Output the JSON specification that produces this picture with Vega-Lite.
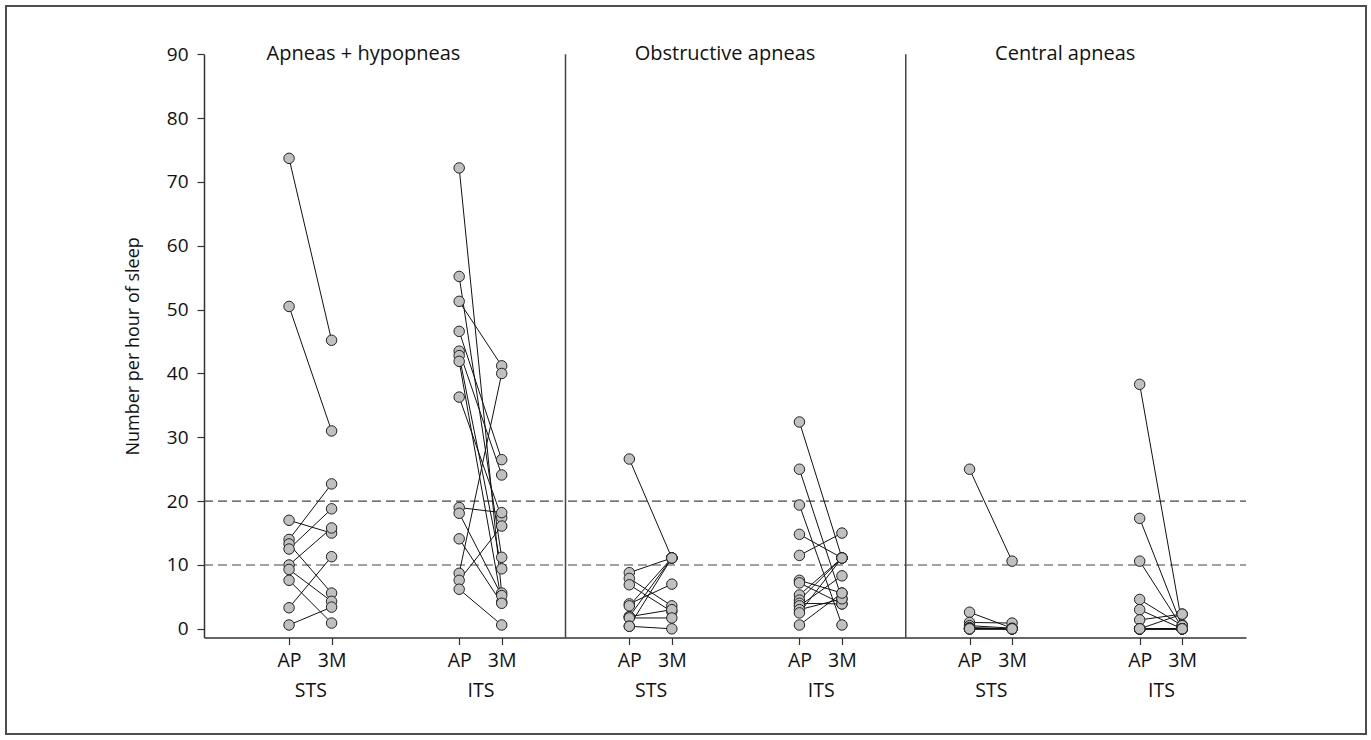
{
  "$schema": "https://vega.github.io/schema/vega-lite/v6.json",
  "width": 1360,
  "height": 728,
  "autosize": {"type": "none"},
  "padding": {"left": 6, "top": 6, "right": 5, "bottom": 6},
  "background": "white",
  "config": {
    "view": {"stroke": "#4d4d4d", "strokeWidth": 2},
    "font": "Open Sans"
  },
  "datasets": {
    "pairs": [
    {"slot":"AH STS AP","pair":"AH-STS-1","value":73.7},{"slot":"AH STS 3M","pair":"AH-STS-1","value":45.2},
    {"slot":"AH STS AP","pair":"AH-STS-2","value":50.5},{"slot":"AH STS 3M","pair":"AH-STS-2","value":31.0},
    {"slot":"AH STS AP","pair":"AH-STS-3","value":17.0},{"slot":"AH STS 3M","pair":"AH-STS-3","value":15.0},
    {"slot":"AH STS AP","pair":"AH-STS-4","value":14.0},{"slot":"AH STS 3M","pair":"AH-STS-4","value":22.7},
    {"slot":"AH STS AP","pair":"AH-STS-5","value":13.3},{"slot":"AH STS 3M","pair":"AH-STS-5","value":5.6},
    {"slot":"AH STS AP","pair":"AH-STS-6","value":12.5},{"slot":"AH STS 3M","pair":"AH-STS-6","value":18.8},
    {"slot":"AH STS AP","pair":"AH-STS-7","value":10.0},{"slot":"AH STS 3M","pair":"AH-STS-7","value":15.8},
    {"slot":"AH STS AP","pair":"AH-STS-8","value":9.3},{"slot":"AH STS 3M","pair":"AH-STS-8","value":4.3},
    {"slot":"AH STS AP","pair":"AH-STS-9","value":7.6},{"slot":"AH STS 3M","pair":"AH-STS-9","value":0.9},
    {"slot":"AH STS AP","pair":"AH-STS-10","value":3.3},{"slot":"AH STS 3M","pair":"AH-STS-10","value":11.3},
    {"slot":"AH STS AP","pair":"AH-STS-11","value":0.6},{"slot":"AH STS 3M","pair":"AH-STS-11","value":3.4},

    {"slot":"AH ITS AP","pair":"AH-ITS-1","value":72.2},{"slot":"AH ITS 3M","pair":"AH-ITS-1","value":5.6},
    {"slot":"AH ITS AP","pair":"AH-ITS-2","value":55.2},{"slot":"AH ITS 3M","pair":"AH-ITS-2","value":11.2},
    {"slot":"AH ITS AP","pair":"AH-ITS-3","value":51.3},{"slot":"AH ITS 3M","pair":"AH-ITS-3","value":41.2},
    {"slot":"AH ITS AP","pair":"AH-ITS-4","value":46.6},{"slot":"AH ITS 3M","pair":"AH-ITS-4","value":26.5},
    {"slot":"AH ITS AP","pair":"AH-ITS-5","value":43.5},{"slot":"AH ITS 3M","pair":"AH-ITS-5","value":24.1},
    {"slot":"AH ITS AP","pair":"AH-ITS-6","value":42.8},{"slot":"AH ITS 3M","pair":"AH-ITS-6","value":9.4},
    {"slot":"AH ITS AP","pair":"AH-ITS-7","value":41.9},{"slot":"AH ITS 3M","pair":"AH-ITS-7","value":4.2},
    {"slot":"AH ITS AP","pair":"AH-ITS-8","value":36.3},{"slot":"AH ITS 3M","pair":"AH-ITS-8","value":17.4},
    {"slot":"AH ITS AP","pair":"AH-ITS-9","value":19.0},{"slot":"AH ITS 3M","pair":"AH-ITS-9","value":18.2},
    {"slot":"AH ITS AP","pair":"AH-ITS-10","value":18.1},{"slot":"AH ITS 3M","pair":"AH-ITS-10","value":5.2},
    {"slot":"AH ITS AP","pair":"AH-ITS-11","value":14.1},{"slot":"AH ITS 3M","pair":"AH-ITS-11","value":4.0},
    {"slot":"AH ITS AP","pair":"AH-ITS-12","value":8.7},{"slot":"AH ITS 3M","pair":"AH-ITS-12","value":40.0},
    {"slot":"AH ITS AP","pair":"AH-ITS-13","value":7.6},{"slot":"AH ITS 3M","pair":"AH-ITS-13","value":16.1},
    {"slot":"AH ITS AP","pair":"AH-ITS-14","value":6.2},{"slot":"AH ITS 3M","pair":"AH-ITS-14","value":0.6},

    {"slot":"OA STS AP","pair":"OA-STS-1","value":26.6},{"slot":"OA STS 3M","pair":"OA-STS-1","value":11.1},
    {"slot":"OA STS AP","pair":"OA-STS-2","value":8.8},{"slot":"OA STS 3M","pair":"OA-STS-2","value":11.1},
    {"slot":"OA STS AP","pair":"OA-STS-3","value":7.9},{"slot":"OA STS 3M","pair":"OA-STS-3","value":3.6},
    {"slot":"OA STS AP","pair":"OA-STS-4","value":6.9},{"slot":"OA STS 3M","pair":"OA-STS-4","value":2.7},
    {"slot":"OA STS AP","pair":"OA-STS-5","value":3.9},{"slot":"OA STS 3M","pair":"OA-STS-5","value":7.0},
    {"slot":"OA STS AP","pair":"OA-STS-6","value":3.6},{"slot":"OA STS 3M","pair":"OA-STS-6","value":11.1},
    {"slot":"OA STS AP","pair":"OA-STS-7","value":1.9},{"slot":"OA STS 3M","pair":"OA-STS-7","value":11.1},
    {"slot":"OA STS AP","pair":"OA-STS-8","value":1.9},{"slot":"OA STS 3M","pair":"OA-STS-8","value":3.0},
    {"slot":"OA STS AP","pair":"OA-STS-9","value":1.7},{"slot":"OA STS 3M","pair":"OA-STS-9","value":1.7},
    {"slot":"OA STS AP","pair":"OA-STS-10","value":0.4},{"slot":"OA STS 3M","pair":"OA-STS-10","value":11.1},
    {"slot":"OA STS AP","pair":"OA-STS-11","value":0.4},{"slot":"OA STS 3M","pair":"OA-STS-11","value":0.0},

    {"slot":"OA ITS AP","pair":"OA-ITS-1","value":32.4},{"slot":"OA ITS 3M","pair":"OA-ITS-1","value":11.1},
    {"slot":"OA ITS AP","pair":"OA-ITS-2","value":25.0},{"slot":"OA ITS 3M","pair":"OA-ITS-2","value":4.7},
    {"slot":"OA ITS AP","pair":"OA-ITS-3","value":19.4},{"slot":"OA ITS 3M","pair":"OA-ITS-3","value":0.6},
    {"slot":"OA ITS AP","pair":"OA-ITS-4","value":14.8},{"slot":"OA ITS 3M","pair":"OA-ITS-4","value":11.1},
    {"slot":"OA ITS AP","pair":"OA-ITS-5","value":11.5},{"slot":"OA ITS 3M","pair":"OA-ITS-5","value":15.0},
    {"slot":"OA ITS AP","pair":"OA-ITS-6","value":7.6},{"slot":"OA ITS 3M","pair":"OA-ITS-6","value":5.6},
    {"slot":"OA ITS AP","pair":"OA-ITS-7","value":7.2},{"slot":"OA ITS 3M","pair":"OA-ITS-7","value":3.9},
    {"slot":"OA ITS AP","pair":"OA-ITS-8","value":5.3},{"slot":"OA ITS 3M","pair":"OA-ITS-8","value":11.1},
    {"slot":"OA ITS AP","pair":"OA-ITS-9","value":4.5},{"slot":"OA ITS 3M","pair":"OA-ITS-9","value":11.1},
    {"slot":"OA ITS AP","pair":"OA-ITS-10","value":4.0},{"slot":"OA ITS 3M","pair":"OA-ITS-10","value":3.9},
    {"slot":"OA ITS AP","pair":"OA-ITS-11","value":3.6},{"slot":"OA ITS 3M","pair":"OA-ITS-11","value":8.3},
    {"slot":"OA ITS AP","pair":"OA-ITS-12","value":3.0},{"slot":"OA ITS 3M","pair":"OA-ITS-12","value":4.7},
    {"slot":"OA ITS AP","pair":"OA-ITS-13","value":2.5},{"slot":"OA ITS 3M","pair":"OA-ITS-13","value":11.1},
    {"slot":"OA ITS AP","pair":"OA-ITS-14","value":0.6},{"slot":"OA ITS 3M","pair":"OA-ITS-14","value":5.6},

    {"slot":"CA STS AP","pair":"CA-STS-1","value":25.0},{"slot":"CA STS 3M","pair":"CA-STS-1","value":10.6},
    {"slot":"CA STS AP","pair":"CA-STS-2","value":2.6},{"slot":"CA STS 3M","pair":"CA-STS-2","value":0.1},
    {"slot":"CA STS AP","pair":"CA-STS-3","value":1.0},{"slot":"CA STS 3M","pair":"CA-STS-3","value":0.9},
    {"slot":"CA STS AP","pair":"CA-STS-4","value":0.5},{"slot":"CA STS 3M","pair":"CA-STS-4","value":0.1},
    {"slot":"CA STS AP","pair":"CA-STS-5","value":0.2},{"slot":"CA STS 3M","pair":"CA-STS-5","value":0.0},
    {"slot":"CA STS AP","pair":"CA-STS-6","value":0.1},{"slot":"CA STS 3M","pair":"CA-STS-6","value":0.0},
    {"slot":"CA STS AP","pair":"CA-STS-7","value":0.0},{"slot":"CA STS 3M","pair":"CA-STS-7","value":0.0},
    {"slot":"CA STS AP","pair":"CA-STS-8","value":0.0},{"slot":"CA STS 3M","pair":"CA-STS-8","value":0.0},
    {"slot":"CA STS AP","pair":"CA-STS-9","value":0.0},{"slot":"CA STS 3M","pair":"CA-STS-9","value":0.0},
    {"slot":"CA STS AP","pair":"CA-STS-10","value":0.0},{"slot":"CA STS 3M","pair":"CA-STS-10","value":0.0},
    {"slot":"CA STS AP","pair":"CA-STS-11","value":0.0},{"slot":"CA STS 3M","pair":"CA-STS-11","value":0.0},

    {"slot":"CA ITS AP","pair":"CA-ITS-1","value":38.3},{"slot":"CA ITS 3M","pair":"CA-ITS-1","value":0.6},
    {"slot":"CA ITS AP","pair":"CA-ITS-2","value":17.3},{"slot":"CA ITS 3M","pair":"CA-ITS-2","value":0.3},
    {"slot":"CA ITS AP","pair":"CA-ITS-3","value":10.6},{"slot":"CA ITS 3M","pair":"CA-ITS-3","value":0.2},
    {"slot":"CA ITS AP","pair":"CA-ITS-4","value":4.6},{"slot":"CA ITS 3M","pair":"CA-ITS-4","value":0.5},
    {"slot":"CA ITS AP","pair":"CA-ITS-5","value":3.0},{"slot":"CA ITS 3M","pair":"CA-ITS-5","value":0.0},
    {"slot":"CA ITS AP","pair":"CA-ITS-6","value":1.4},{"slot":"CA ITS 3M","pair":"CA-ITS-6","value":2.3},
    {"slot":"CA ITS AP","pair":"CA-ITS-7","value":0.0},{"slot":"CA ITS 3M","pair":"CA-ITS-7","value":2.3},
    {"slot":"CA ITS AP","pair":"CA-ITS-8","value":0.0},{"slot":"CA ITS 3M","pair":"CA-ITS-8","value":0.0},
    {"slot":"CA ITS AP","pair":"CA-ITS-9","value":0.0},{"slot":"CA ITS 3M","pair":"CA-ITS-9","value":0.0},
    {"slot":"CA ITS AP","pair":"CA-ITS-10","value":0.0},{"slot":"CA ITS 3M","pair":"CA-ITS-10","value":0.0},
    {"slot":"CA ITS AP","pair":"CA-ITS-11","value":0.0},{"slot":"CA ITS 3M","pair":"CA-ITS-11","value":0.0},
    {"slot":"CA ITS AP","pair":"CA-ITS-12","value":0.0},{"slot":"CA ITS 3M","pair":"CA-ITS-12","value":0.0},
    {"slot":"CA ITS AP","pair":"CA-ITS-13","value":0.0},{"slot":"CA ITS 3M","pair":"CA-ITS-13","value":0.0},
    {"slot":"CA ITS AP","pair":"CA-ITS-14","value":0.0},{"slot":"CA ITS 3M","pair":"CA-ITS-14","value":0.0}
    ],
    "thresholds": [{"value": 10}, {"value": 20}],
    "separators": [
      {"slot": "sep1", "value": 90, "bottom": -1.36},
      {"slot": "sep2", "value": 90, "bottom": -1.36}
    ],
    "panels": [
      {"slot": "AH title", "label": "Apneas + hypopneas", "value": 90},
      {"slot": "OA title", "label": "Obstructive apneas", "value": 90},
      {"slot": "CA title", "label": "Central apneas", "value": 90}
    ],
    "groups": [
      {"slot": "AH STS", "value": 0}, {"slot": "AH ITS", "value": 0},
      {"slot": "OA STS", "value": 0}, {"slot": "OA ITS", "value": 0},
      {"slot": "CA STS", "value": 0}, {"slot": "CA ITS", "value": 0}
    ]
  },
  "layer": [
    {
      "data": {"name": "pairs"},
      "mark": {"type": "point", "opacity": 0},
      "encoding": {
        "x": {
          "field": "slot", "type": "ordinal", "axis": null,
          "scale": {
            "type": "point", "padding": 0, "range": [198, 1240],
            "domain": ["start","g1","g2","g3","g4","g5","g6","g7","AH STS AP","g9","AH STS","g11","AH STS 3M","g13","g14","AH title","g16","g17","g18","g19","g20","g21","g22","g23","AH ITS AP","g25","AH ITS","g27","AH ITS 3M","g29","g30","g31","g32","g33","sep1","g35","g36","g37","g38","g39","OA STS AP","g41","OA STS","g43","OA STS 3M","g45","g46","g47","g48","OA title","g50","g51","g52","g53","g54","g55","OA ITS AP","g57","OA ITS","g59","OA ITS 3M","g61","g62","g63","g64","g65","sep2","g67","g68","g69","g70","g71","CA STS AP","g73","CA STS","g75","CA STS 3M","g77","g78","g79","g80","CA title","g82","g83","g84","g85","g86","g87","CA ITS AP","g89","CA ITS","g91","CA ITS 3M","g93","g94","g95","g96","g97","end"]
          }
        },
        "y": {
          "field": "value", "type": "quantitative",
          "scale": {"domain": [-1.36, 90], "range": [631.5, 48.3], "nice": false, "zero": false},
          "axis": {
            "orient": "left", "offset": -198,
            "title": "Number per hour of sleep",
            "values": [0, 10, 20, 30, 40, 50, 60, 70, 80, 90],
            "labelFontSize": 19, "labelColor": "#111", "labelPadding": 9, "labelFont": "Open Sans",
            "titleFontSize": 18, "titleFontWeight": "normal", "titleColor": "#111", "titlePadding": 24, "titleFont": "Open Sans",
            "tickSize": 7, "tickColor": "#333", "tickWidth": 1.2,
            "domainColor": "#333", "domainWidth": 1.5, "grid": false
          }
        }
      }
    },
    {
      "data": {"name": "thresholds"},
      "mark": {"type": "rule", "color": "#444", "strokeWidth": 1.2, "strokeDash": [9, 5]},
      "encoding": {
        "x": {"datum": "start", "axis": null},
        "x2": {"datum": "end"},
        "y": {"field": "value", "type": "quantitative"}
      }
    },
    {
      "data": {"name": "separators"},
      "mark": {"type": "rule", "color": "#444", "strokeWidth": 1.5},
      "encoding": {
        "x": {"field": "slot", "type": "ordinal", "axis": null},
        "y": {"field": "value", "type": "quantitative"},
        "y2": {"field": "bottom"}
      }
    },
    {
      "data": {"name": "pairs"},
      "mark": {"type": "line", "color": "#111", "strokeWidth": 1},
      "encoding": {
        "x": {"field": "slot", "type": "ordinal", "axis": null},
        "y": {"field": "value", "type": "quantitative"},
        "detail": {"field": "pair"}
      }
    },
    {
      "data": {"name": "pairs"},
      "mark": {"type": "point", "filled": true, "fill": "#c0c0c0", "stroke": "#222", "strokeWidth": 1, "size": 110, "opacity": 1},
      "encoding": {
        "x": {
          "field": "slot", "type": "ordinal",
          "axis": {
            "orient": "bottom", "offset": -96.5, "title": null,
            "values": ["AH STS AP","AH STS 3M","AH ITS AP","AH ITS 3M","OA STS AP","OA STS 3M","OA ITS AP","OA ITS 3M","CA STS AP","CA STS 3M","CA ITS AP","CA ITS 3M"],
            "labelExpr": "slice(datum.value, -2)",
            "labelAngle": 0, "labelFontSize": 19.5, "labelColor": "#111", "labelPadding": 7,
            "labelFont": "Open Sans",
            "tickSize": 7, "tickColor": "#333", "tickWidth": 1.2,
            "domainColor": "#333", "domainWidth": 1.5, "grid": false
          }
        },
        "y": {"field": "value", "type": "quantitative"}
      }
    },
    {
      "data": {"name": "panels"},
      "mark": {"type": "text", "fontSize": 20, "color": "#111", "align": "center", "baseline": "middle", "font": "Open Sans"},
      "encoding": {
        "x": {"field": "slot", "type": "ordinal", "axis": null},
        "y": {"field": "value", "type": "quantitative"},
        "text": {"field": "label"}
      }
    },
    {
      "data": {"name": "groups"},
      "mark": {"type": "point", "opacity": 0},
      "encoding": {
        "x": {
          "field": "slot", "type": "ordinal",
          "axis": {
            "orient": "bottom", "offset": -96.5, "title": null,
            "values": ["AH STS","AH ITS","OA STS","OA ITS","CA STS","CA ITS"],
            "labelExpr": "slice(datum.value, 3)",
            "labelAngle": 0, "labelFontSize": 19.5, "labelColor": "#111", "labelPadding": 44,
            "labelFont": "Open Sans",
            "ticks": false, "domain": false, "grid": false
          }
        },
        "y": {"field": "value", "type": "quantitative"}
      }
    }
  ],
  "resolve": {"axis": {"x": "independent"}}
}
